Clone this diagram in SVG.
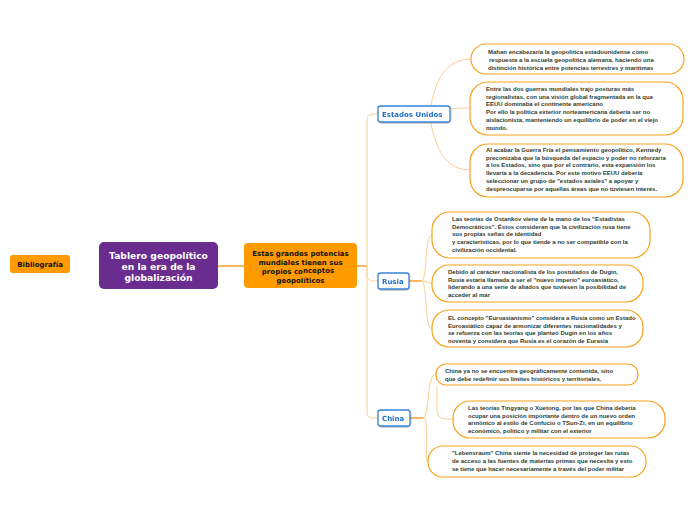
<svg xmlns="http://www.w3.org/2000/svg" width="696" height="520" viewBox="0 0 696 520">
<defs>
<style>
.leaf rect{fill:#fff;stroke:#f7a21b;stroke-width:1.2}
.leaf text{font-family:"Liberation Sans",Arial,sans-serif;font-size:6px;font-weight:bold;fill:#2f4032}
.branch rect{fill:#fff;stroke:#3a82d6;stroke-width:1.3}
.branch text{font-family:"DejaVu Sans",Verdana,sans-serif;font-size:7px;font-weight:bold;fill:#1f6fc8}
.org text{font-family:"DejaVu Sans",Verdana,sans-serif;font-weight:bold;fill:#111;text-anchor:middle}
.c{fill:none;stroke:#fbcf92;stroke-width:1}
.cm{fill:none;stroke:#f5a12a;stroke-width:1.5}
</style>
<filter id="sh" x="-20%" y="-20%" width="140%" height="160%"><feDropShadow dx="0.5" dy="1" stdDeviation="0.6" flood-color="#000" flood-opacity="0.25"/></filter>
</defs>
<rect width="696" height="520" fill="#fff"/>

<g id="connectors">
<path class="cm" d="M218 266 H244"/>
<path class="cm" d="M357 266 H367"/>
<path class="c" d="M367 266 V120 Q367 114 373 114 H378"/>
<path class="c" d="M367 266 V412 Q367 418 373 418 H378"/>
<path class="c" d="M367 266 V275 Q367 281 373 281 H378"/>
<path class="cm" d="M421 114 H426"/>
<path class="c" d="M426 114 C434 114 430 59 471 59"/>
<path class="c" d="M426 114 C434 114 432 108 470 108"/>
<path class="c" d="M426 114 C434 114 430 170 470 170"/>
<path class="cm" d="M409 281 H421"/>
<path class="c" d="M421 281 C428 281 424 235 432 235"/>
<path class="c" d="M421 281 C428 281 426 283 432 283"/>
<path class="c" d="M421 281 C428 281 424 329 432 329"/>
<path class="cm" d="M410 418 H423"/>
<path class="c" d="M423 418 C430 418 426 374 436 374"/>
<path class="c" d="M423 418 C430 418 424 462 428 462"/>
<path class="c" d="M437 385 V410 Q437 419 446 419 H453"/>
</g>

<g id="bibliografia" class="org">
<rect x="10" y="255" width="60" height="18" rx="3" fill="#ff9a00"/>
<text x="40" y="266.5" font-size="7">Bibliografía</text>
</g>

<g id="central" class="org">
<rect x="99" y="242" width="119" height="47" rx="5" fill="#6a2c8f"/>
<text x="158.5" y="259" font-size="9.2" style="fill:#fff">Tablero geopolítico</text>
<text x="158.5" y="270" font-size="9.2" style="fill:#fff">en la era de la</text>
<text x="158.5" y="281" font-size="9.2" style="fill:#fff">globalización</text>
</g>

<g id="potencias" class="org">
<rect x="244" y="243" width="113" height="45" rx="4" fill="#ff9a00"/>
<text x="300.5" y="256" font-size="7">Estas grandes potencias</text>
<text x="300.5" y="264.5" font-size="7">mundiales tienen sus</text>
<text x="298" y="274" font-size="7">propios co<tspan dy="-1">nceptos</tspan></text>
<text x="300.5" y="282.5" font-size="7">geopolíticos</text>
</g>

<g id="eeuu" class="branch" filter="url(#sh)">
<rect x="378" y="106" width="72" height="16" rx="2.5"/>
<text x="382" y="117">Estados Unidos</text>
</g>
<g id="rusia" class="branch" filter="url(#sh)">
<rect x="378" y="273" width="31" height="16" rx="2.5"/>
<text x="382" y="284">Rusia</text>
</g>
<g id="china" class="branch" filter="url(#sh)">
<rect x="378" y="410" width="32" height="16" rx="2.5"/>
<text x="382" y="421">China</text>
</g>

<g id="eeuu1" class="leaf">
<rect x="471" y="44" width="213" height="30" rx="15"/>
<text x="488" y="54">Mahan encabezaría la geopolítica estadounidense como</text>
<text x="489" y="62">respuesta  a la escuela geopolítica alemana, haciendo una</text>
<text x="488" y="69.5">distinción histórica entre potencias terrestres y marítimas</text>
</g>
<g id="eeuu2" class="leaf">
<rect x="470" y="82" width="213" height="53" rx="18"/>
<text x="486" y="91">Entre las dos guerras mundiales trajo posturas más</text>
<text x="486" y="98.5">regionalistas, con una visión global fragmentada en la que</text>
<text x="486" y="106">EEUU dominaba el continente americano</text>
<text x="486" y="114">Por ello la política exterior norteamericana debería ser no</text>
<text x="486" y="122">aislacionista, manteniendo un equilibrio de poder en el viejo</text>
<text x="486" y="130">mundo.</text>
</g>
<g id="eeuu3" class="leaf">
<rect x="470" y="144" width="213" height="53" rx="18"/>
<text x="486" y="152">Al acabar la Guerra Fría el pensamiento geopolítico, Kennedy</text>
<text x="486" y="159.5">preconizaba que la búsqueda del espacio y poder no reforzaría</text>
<text x="486" y="167">a los Estados, sino que por el contrario, esta expansión los</text>
<text x="486" y="175">llevaría a la decadencia. Por este motivo EEUU debería</text>
<text x="486" y="183">seleccionar un grupo de "estados axiales" a apoyar y</text>
<text x="486" y="190.5">despreocuparse por aquellas áreas que no tuviesen interés.</text>
</g>

<g id="rusia1" class="leaf">
<rect x="432" y="212" width="218" height="46" rx="18"/>
<text x="452" y="221">Las teorías de Ostankov viene de la mano de los "Estadistas</text>
<text x="452" y="228.5">Democráticos". Éstos consideran que la civilización rusa tiene</text>
<text x="452" y="236">sus propias señas de identidad</text>
<text x="452" y="244"> y características, por lo que tiende a no ser compatible con la</text>
<text x="452" y="251.5">civilización occidental.</text>
</g>
<g id="rusia2" class="leaf">
<rect x="432" y="265" width="211" height="37" rx="17"/>
<text x="448" y="274">Debido al carácter nacionalista de los postulados de Dugin,</text>
<text x="448" y="281.5">Rusia estaría llamada a ser el "nuevo imperio" euroasiático,</text>
<text x="448" y="289">liderando a una serie de aliados que tuviesen la posibilidad de</text>
<text x="448" y="296.5">acceder al mar</text>
</g>
<g id="rusia3" class="leaf">
<rect x="432" y="310" width="211" height="37" rx="17"/>
<text x="448" y="320">EL concepto "Euroasianismo" considera a Rusia como un Estado</text>
<text x="448" y="327.5">Euroasiático capaz de armonizar diferentes nacionalidades y</text>
<text x="448" y="334.5">se refuerza <tspan dy="0.8">con las teorías que planteó Dugin en los años</tspan></text>
<text x="448" y="342.5">noventa y considera que Rusia es el corazón de Eurasia</text>
</g>

<g id="china1" class="leaf">
<rect x="436" y="364" width="202" height="21" rx="10"/>
<text x="445" y="373">China ya no se encuentra geográficamente contenida, sino</text>
<text x="445" y="381">que debe redefinir sus límites históricos y territoriales.</text>
</g>
<g id="china2" class="leaf">
<rect x="453" y="401" width="212" height="37" rx="17"/>
<text x="468" y="410">Las teorías Tingyang o Xuetong, por las que China debería</text>
<text x="468" y="417.5">ocupar una posición importante dentro de un nuevo orden</text>
<text x="468" y="425">armónico al estilo de Confucio o TSun-Zi, en un equilibrio</text>
<text x="468" y="433">económico, político y militar con el exterior</text>
</g>
<g id="china3" class="leaf">
<rect x="428" y="446" width="218" height="31" rx="15"/>
<text x="452" y="455">"Lebensraum" China siente la necesidad de proteger las rutas</text>
<text x="452" y="462.5">de acceso a las fuentes de materias primas que necesita y esto</text>
<text x="452" y="471">se tiene que hacer necesariamente a través del poder militar</text>
</g>
</svg>
